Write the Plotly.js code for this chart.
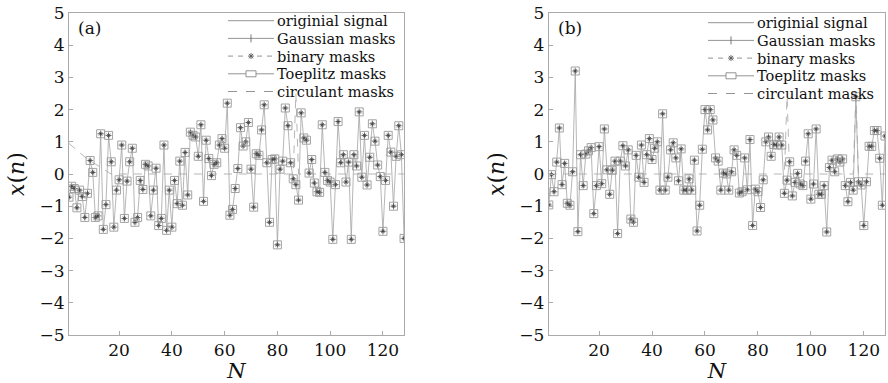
<!DOCTYPE html>
<html>
<head>
<meta charset="utf-8">
<script src="https://cdn.plot.ly/plotly-3.0.1.min.js"></script>
<style>html,body{margin:0;padding:0;background:#fff;}#chart{width:888px;height:383px;}</style>
</head>
<body>
<div id="chart"></div>
<script>
// sample index
const sampleIndex = Array.from({length: 128}, (_, i) => i + 1);

// panel (a): reconstructed signal (all masks overlap)
const signalA = [
 -0.72,-0.38,-0.45,-1.05,-0.5,-0.7,-1.35,-0.6,0.42,0.05,
 -1.35,-1.3,1.25,-1.72,-0.95,1.2,0.38,-1.65,-0.5,-0.18,
 0.9,-1.38,-0.22,0.38,0.8,-1.5,-1.35,-0.2,-0.48,0.3,
 0.25,-1.3,-0.5,0.18,-1.6,-1.38,0.9,-1.75,-0.5,-1.65,
 -0.2,-0.92,0.4,-0.97,0.67,-0.65,1.3,1.2,1.15,0.55,
 1.53,-0.85,1.05,0.48,-0.05,0.3,0.35,0.9,1.1,0.8,
 2.2,-1.28,-1.1,-0.45,0.17,1.44,0.87,1.0,1.6,0.15,
 -1.03,0.63,0.58,1.37,2.15,0.35,-1.5,0.45,0.47,-2.2,
 0.15,0.4,2.05,1.5,0.35,-0.15,-0.33,-0.81,1.9,1.12,
 1.05,0.03,0.45,-0.28,-0.55,-0.57,1.53,0.05,-0.2,-0.25,
 -2.03,-0.33,1.63,0.35,0.6,-0.25,0.37,-2.03,0.6,0.25,
 1.93,-0.1,1.2,-0.34,0.52,1.56,1.02,0.28,-0.08,-1.78,
 -0.2,1.2,0.68,-1.0,0.55,1.5,0.6,-2.0
];
// panel (a): circulant masks (dashed)
const circulantA = [
 0.95,0.88,0.8,0.72,0.65,0.58,0.52,0.46,0.41,0.36,
 0.32,0.28,0.22,0.16,0.1,0.05,0,0,0,0,
 0,0,0,0,0,0,0,0,0,0,
 0,0,0,0,0,0,0,0,0,0,
 0,0,0,0,0,0,0,0,0,0,
 0,0,0,0,0,0,0,0,0,0,
 0,0,0,0,0,0,0,0,0,0,
 0,0,0,0,0,0,0,0,0,0,
 0,0,0,0,0,0,2.5,0,0,0,
 0,0,0,0,0,0,0,0,0,0,
 0,0,0,0,0,0,0,0,0,0,
 0,0,0,0,0,0,0,0,0,0,
 0,0,0,0,0,0,0,0
];

// panel (b): reconstructed signal
const signalB = [
 -0.96,-0.02,-0.55,0.37,1.43,-0.33,0.33,-0.91,-0.97,0.07,
 3.2,-1.79,0.6,-0.36,0.62,0.72,0.82,-1.23,-0.36,0.85,
 -0.3,1.4,0.13,-0.63,0.12,0.4,-1.85,0.4,0.88,0.25,
 0.75,-1.4,-1.5,0.58,-0.1,0.9,-0.26,0.6,1.1,0.45,
 0.8,1.0,-0.5,1.87,-0.5,-0.1,0.75,0.97,0.5,-0.21,
 0.78,-0.5,-0.5,-0.15,-0.5,0.43,-1.77,-0.97,0.77,2.0,
 1.37,2.0,1.68,0.5,0.4,-0.5,0.03,0.0,-0.5,0.07,
 0.75,0.58,-0.59,-0.55,0.5,-0.49,1.07,-1.6,-0.47,-0.55,
 -1.04,-0.18,1.0,1.15,0.55,0.92,0.9,1.15,0.9,-0.6,
 -0.19,0.38,-0.68,-0.26,0.02,-0.31,-0.36,0.4,1.25,-0.78,
 -0.31,1.4,-0.63,-0.63,-0.36,-1.8,0.2,0.43,0.07,0.47,
 0.37,0.47,-0.36,-0.86,-0.26,-0.5,2.4,-0.24,-0.34,-1.6,
 -0.24,0.86,0.86,1.35,1.35,0.49,-0.97,1.18
];
// panel (b): circulant masks (dashed)
const circulantB = [
 0,0,0,0,0,0,0,0,0,0,
 0,0,0,0,0,0,0,0,0,0,
 0,0,0,0,0,0,0,0,0,0,
 0,0,0,0,0,0,0,0,0,0,
 0,0,0,0,0,0,0,0,0,0,
 0,0,0,0,0,0,0,0,0,0,
 0,0,0,0,0,0,0,0,0,0,
 0,0,0,0,0,0,0,0,0,0,
 0,0,0,0,0,0,0,0,0,0,
 2.4,0,0,0,0,0,0,0,0,0,
 0,0,0,0,0,0,0,0,0,0,
 0,0,0,0,0,0,2.4,0,0,0,
 0,0,0,0,0,0,0,0
];

const seriesNames = ['originial signal', 'Gaussian masks', 'binary masks', 'Toeplitz masks', 'circulant masks'];
const panelLabels = ['(a)', '(b)'];
const xTicks = [20, 40, 60, 80, 100, 120];
const yTicks = [-5, -4, -3, -2, -1, 0, 1, 2, 3, 4, 5];

const W = 888, H = 383;
const SERIF = 'DejaVu Serif, serif';
const LINE = '#a3a3a3';

function panelTraces(sig, circ, xa, ya) {
  return [
    {x: sampleIndex, y: circ, name: seriesNames[4], mode: 'lines', xaxis: xa, yaxis: ya, showlegend: false,
     line: {color: LINE, width: 0.8, dash: '8px,7px'}},
    {x: sampleIndex, y: sig, name: seriesNames[0], mode: 'lines', xaxis: xa, yaxis: ya, showlegend: false,
     line: {color: LINE, width: 0.8}},
    {x: sampleIndex, y: sig, name: seriesNames[1], mode: 'markers', xaxis: xa, yaxis: ya, showlegend: false,
     marker: {symbol: 'cross-thin-open', size: 5, color: '#888', line: {color: '#888', width: 0.7}}},
    {x: sampleIndex, y: sig, name: seriesNames[2], mode: 'markers', xaxis: xa, yaxis: ya, showlegend: false,
     marker: {symbol: 'asterisk-open', size: 4, color: '#444', line: {color: '#444', width: 0.8}}},
    {x: sampleIndex, y: sig, name: seriesNames[3], mode: 'markers', xaxis: xa, yaxis: ya, showlegend: false,
     marker: {symbol: 'square-open', size: 8, color: '#9a9a9a', line: {color: '#9a9a9a', width: 0.9}}}
  ];
}

const data = [].concat(
  panelTraces(signalA, circulantA, 'x', 'y'),
  panelTraces(signalB, circulantB, 'x2', 'y2')
);

function xaxisDef(domain, anchor) {
  return {
    domain: domain, anchor: anchor, range: [1, 128],
    tickvals: xTicks, ticks: 'inside', ticklen: 4, tickcolor: '#aaa',
    showline: true, linecolor: '#aaa', linewidth: 1, mirror: true,
    showgrid: false, zeroline: false,
    tickfont: {family: SERIF, size: 17, color: '#111'},
    title: {text: '<i>N</i>', font: {family: SERIF, size: 21, color: '#111'}, standoff: 4}
  };
}
function yaxisDef(anchor) {
  return {
    domain: [0.1253, 0.966], anchor: anchor, range: [-5, 5],
    tickvals: yTicks, ticks: 'inside', ticklen: 4, tickcolor: '#aaa',
    showline: true, linecolor: '#aaa', linewidth: 1, mirror: true,
    showgrid: false, zeroline: false,
    tickfont: {family: SERIF, size: 17, color: '#111'},
    title: {text: '<i>x</i>(<i>n</i>)', font: {family: SERIF, size: 22, color: '#111'}, standoff: 8}
  };
}

// hand-built legend (compact row spacing like the original)
const shapes = [];
const annotations = [];
function px2x(p) { return p / W; }
function px2y(p) { return 1 - p / H; }
function seg(x0, y0, x1, y1, dash, color, width) {
  shapes.push({type: 'line', xref: 'paper', yref: 'paper',
    x0: px2x(x0), y0: px2y(y0), x1: px2x(x1), y1: px2y(y1),
    line: {color: color || '#888', width: width || 0.9, dash: dash || 'solid'}});
}
function buildLegend(symL, symR, textL, top, gap) {
  const mid = (symL + symR) / 2;
  seriesNames.forEach((name, i) => {
    const y = top + i * gap;
    annotations.push({text: name, xref: 'paper', yref: 'paper', x: px2x(textL), y: px2y(y),
      xanchor: 'left', yanchor: 'middle', showarrow: false, borderpad: 0,
      font: {family: SERIF, size: 14.6, color: '#111'}});
    if (i === 0) {
      seg(symL, y, symR, y);
    } else if (i === 1) {
      seg(symL, y, symR, y);
      seg(mid, y - 4, mid, y + 4, 'solid', '#666', 0.9);
    } else if (i === 2) {
      seg(symL, y, mid - 6, y, '5px,5px');
      seg(mid + 6, y, symR, y, '5px,5px');
      seg(mid - 3, y, mid + 3, y, 'solid', '#555', 0.9);
      seg(mid, y - 3, mid, y + 3, 'solid', '#555', 0.9);
      seg(mid - 2.2, y - 2.2, mid + 2.2, y + 2.2, 'solid', '#555', 0.9);
      seg(mid - 2.2, y + 2.2, mid + 2.2, y - 2.2, 'solid', '#555', 0.9);
    } else if (i === 3) {
      seg(symL, y, mid - 5, y);
      seg(mid + 5, y, symR, y);
      shapes.push({type: 'rect', xref: 'paper', yref: 'paper',
        x0: px2x(mid - 5), x1: px2x(mid + 5), y0: px2y(y - 3), y1: px2y(y + 3),
        line: {color: '#888', width: 0.9}});
    } else {
      seg(symL, y, symR, y, '9px,9px');
    }
  });
}
buildLegend(228, 274, 276, 20.7, 17.7);
buildLegend(708, 754, 756, 22.7, 17.7);

annotations.push(
  {text: panelLabels[0], xref: 'paper', yref: 'paper', x: px2x(76), y: px2y(28), xanchor: 'left', yanchor: 'middle',
   showarrow: false, font: {family: SERIF, size: 17, color: '#111'}},
  {text: panelLabels[1], xref: 'paper', yref: 'paper', x: px2x(556), y: px2y(28), xanchor: 'left', yanchor: 'middle',
   showarrow: false, font: {family: SERIF, size: 17, color: '#111'}}
);

const layout = {
  width: W, height: H,
  margin: {l: 0, r: 0, t: 0, b: 0},
  paper_bgcolor: '#fff', plot_bgcolor: '#fff',
  showlegend: false,
  xaxis: xaxisDef([0.0777, 0.455], 'y'),
  yaxis: yaxisDef('x'),
  xaxis2: xaxisDef([0.618, 0.9966], 'y2'),
  yaxis2: yaxisDef('x2'),
  shapes: shapes,
  annotations: annotations
};

Plotly.newPlot('chart', data, layout, {displayModeBar: false, staticPlot: true});
</script>
</body>
</html>
